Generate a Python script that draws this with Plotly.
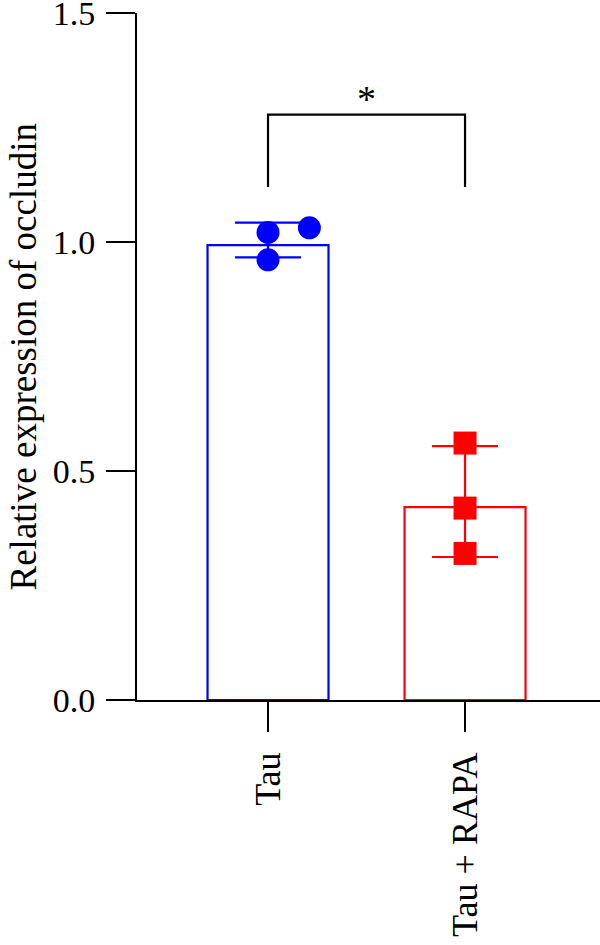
import numpy as np
import plotly.graph_objects as go

categories = ["Tau", "Tau + RAPA"]
bar_means = [0.993, 0.421]
tau_points = [1.021, 1.031, 0.961]
tau_offsets = [0.0, 0.21, 0.0]
rapa_points = [0.561, 0.419, 0.320]
rapa_offsets = [0.0, 0.0, 0.0]
colors = ["#0000ff", "#ff0000"]
symbols = ["circle", "square"]
y_ticks = [0.0, 0.5, 1.0, 1.5]
y_ticktext = ["0.0", "0.5", "1.0", "1.5"]
y_title = "Relative expression of occludin"
bracket_low = 1.12
bracket_high = 1.278
sig_label = "*"

FONT = "Liberation Serif"
xpos = np.arange(len(categories))
points = [tau_points, rapa_points]
offsets = [tau_offsets, rapa_offsets]

fig = go.Figure()
for i in range(len(categories)):
    fig.add_trace(go.Bar(
        x=[xpos[i]], y=[bar_means[i]], width=0.614,
        marker=dict(color="white", line=dict(color=colors[i], width=2.2)),
        showlegend=False, hoverinfo="skip"))
for i in range(len(categories)):
    pts = np.array(points[i])
    m = pts.mean()
    sd = pts.std(ddof=1)
    fig.add_trace(go.Scatter(
        x=[xpos[i]], y=[m], mode="markers",
        marker=dict(size=1, color="rgba(0,0,0,0)"),
        error_y=dict(type="data", array=[sd], color=colors[i], thickness=2.2, width=33),
        showlegend=False, hoverinfo="skip"))
    fig.add_trace(go.Scatter(
        x=xpos[i] + np.array(offsets[i]), y=pts, mode="markers",
        marker=dict(symbol=symbols[i], size=23, color=colors[i], line=dict(width=0)),
        showlegend=False))

fig.add_trace(go.Scatter(
    x=[xpos[0], xpos[0], xpos[1], xpos[1]],
    y=[bracket_low, bracket_high, bracket_high, bracket_low],
    mode="lines", line=dict(color="black", width=2.2),
    showlegend=False, hoverinfo="skip"))
fig.add_annotation(x=(xpos[0] + xpos[1]) / 2, y=bracket_high, text=sig_label,
                   showarrow=False, yanchor="bottom", yshift=-7,
                   font=dict(family=FONT, size=38, color="black"))
fig.add_annotation(x=0, y=0.5, xref="paper", yref="paper", text=y_title,
                   textangle=-90, showarrow=False, xanchor="center", yanchor="middle",
                   xshift=-114, font=dict(family=FONT, size=37, color="black"))

fig.update_layout(
    width=600, height=945,
    margin=dict(l=137, r=0, t=13, b=245),
    paper_bgcolor="white", plot_bgcolor="white",
    font=dict(family=FONT, size=32, color="black"),
    barmode="overlay",
)
fig.update_xaxes(
    range=[-0.665, 1.685], tickvals=list(xpos), ticktext=categories,
    tickangle=-90, ticks="outside", ticklen=30, tickwidth=2, tickcolor="black",
    showline=True, linecolor="black", linewidth=2, showgrid=False, zeroline=False,
    tickfont=dict(family=FONT, size=36), ticklabelstandoff=6, ticklabeloverflow="allow",
    automargin=False)
fig.update_yaxes(
    range=[0, 1.5], tickvals=y_ticks, ticktext=y_ticktext,
    ticks="outside", ticklen=29, tickwidth=2, tickcolor="black",
    showline=True, linecolor="black", linewidth=2, showgrid=False, zeroline=False,
    tickfont=dict(family=FONT, size=34), ticklabelstandoff=4, ticklabeloverflow="allow",
    automargin=False)

fig.write_html("out.html")
